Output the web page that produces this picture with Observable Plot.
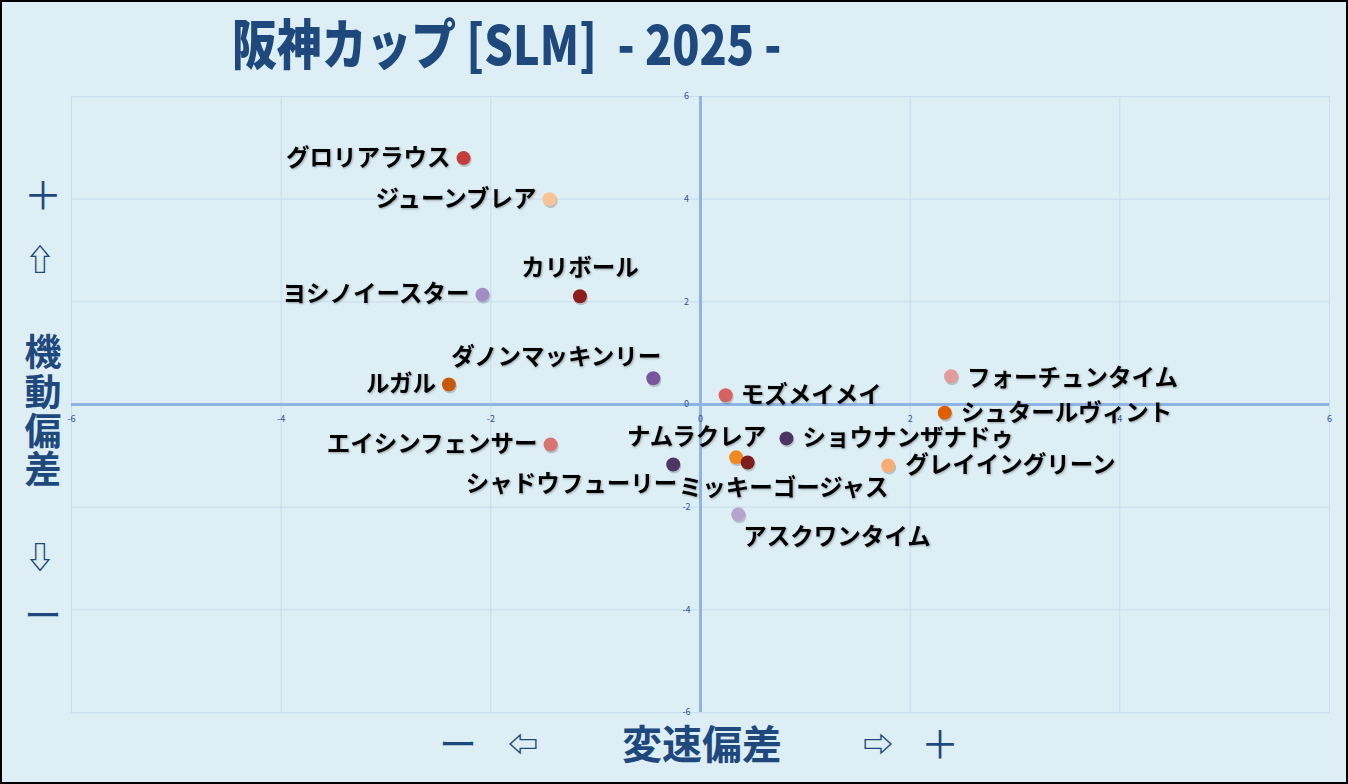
<!DOCTYPE html>
<html><head><meta charset="utf-8">
<script src="https://cdn.jsdelivr.net/npm/d3@7"></script>
<script src="https://cdn.jsdelivr.net/npm/@observablehq/plot@0.6"></script>
<style>
body{margin:0;background:#fff;}
#wrap{position:relative;width:1348px;height:784px;background:#ddeef5;overflow:hidden;font-family:"Noto Sans CJK JP","Noto Sans",sans-serif;}
#frame{position:absolute;left:0;top:0;width:1348px;height:784px;box-sizing:border-box;border:2px solid #000;pointer-events:none;}
#plot{position:absolute;left:0;top:0;}
.t{position:absolute;color:#1f497d;font-weight:700;line-height:1;white-space:pre;transform:translate(-50%,-50%);}
.n{font-weight:400;}
#title{position:absolute;left:232px;top:15px;color:#1f497d;font-weight:900;font-size:54px;line-height:1;white-space:pre;transform:scaleX(0.83);transform-origin:left top;}
</style></head><body>
<div id="wrap">
  <div id="plot"></div>
  <div id="title">阪神カップ [SLM]  - 2025 -</div>
  <div class="t n" style="left:43px;top:193px;font-size:38px">＋</div>
  <div class="t" style="left:40px;top:257px;font-size:30px">⇧</div>
  <div class="t" style="left:43px;top:350px;font-size:37px">機</div>
  <div class="t" style="left:43px;top:390px;font-size:37px">動</div>
  <div class="t" style="left:43px;top:429px;font-size:37px">偏</div>
  <div class="t" style="left:43px;top:467px;font-size:37px">差</div>
  <div class="t" style="left:40px;top:555px;font-size:30px">⇩</div>
  <div class="t n" style="left:43px;top:613px;font-size:38px">ー</div>
  <div class="t n" style="left:458px;top:742px;font-size:38px">ー</div>
  <div class="t" style="left:523px;top:742px;font-size:30px">⇦</div>
  <div class="t" style="left:702px;top:742px;font-size:40px">変速偏差</div>
  <div class="t" style="left:878px;top:742px;font-size:30px">⇨</div>
  <div class="t n" style="left:940px;top:742px;font-size:38px">＋</div>
  <div id="frame"></div>
</div>
<script>
// ---- data ----
const horses = ["グロリアラウス","ジューンブレア","カリボール","ヨシノイースター","ダノンマッキンリー","ルガル","エイシンフェンサー","シャドウフューリー","ナムラクレア","ミッキーゴージャス","アスクワンタイム","モズメイメイ","ショウナンザナドゥ","グレイイングリーン","フォーチュンタイム","シュタールヴィント"];
const speedDev    = [-2.26,-1.44,-1.15,-2.08,-0.45,-2.40,-1.43,-0.26,0.34,0.45,0.36,0.24,0.82,1.79,2.39,2.33];
const mobilityDev = [4.80,4.00,2.11,2.14,0.51,0.39,-0.78,-1.17,-1.03,-1.13,-2.14,0.18,-0.66,-1.19,0.55,-0.16];
const xTicks = [-6,-4,-2,0,2,4,6];
const yTicks = [-6,-4,-2,0,2,4,6];

// ---- styles ----
const dotColors = ["#c43c3c","#f8c396","#8e1d1d","#a48cc4","#7a559f","#c65a0a","#d87472","#4f3566","#f28a22","#7c1e1e","#b6a5cc","#d46262","#4d3563","#f7ae72","#e29c9c","#e06000"];
const labelPlace = {
  "グロリアラウス":[-13,0,"end"],
  "ジューンブレア":[-13,0,"end"],
  "カリボール":[0,-28,"middle"],
  "ヨシノイースター":[-13,0,"end"],
  "ダノンマッキンリー":[8,-21,"end"],
  "ルガル":[-13,0,"end"],
  "エイシンフェンサー":[-13,0,"end"],
  "シャドウフューリー":[4,20,"end"],
  "ナムラクレア":[30,-20,"end"],
  "ミッキーゴージャス":[-69,26,"start"],
  "アスクワンタイム":[5,23,"start"],
  "モズメイメイ":[15,0,"start"],
  "ショウナンザナドゥ":[16,0,"start"],
  "グレイイングリーン":[17,0,"start"],
  "フォーチュンタイム":[16,2,"start"],
  "シュタールヴィント":[16,1,"start"]
};

const rows = horses.map((h,i)=>({name:h,x:speedDev[i],y:mobilityDev[i],c:dotColors[i],p:labelPlace[h]}));

const labelMarks = [];
for (const anchor of ["start","middle","end"]) {
  const sub = rows.filter(r=>r.p[2]===anchor);
  const groups = d3.groups(sub, r=>r.p[0]+","+r.p[1]);
  for (const [,g] of groups) {
    const [dx,dy] = g[0].p;
    labelMarks.push(Plot.text(g,{x:"x",y:"y",text:"name",dx,dy,textAnchor:anchor,fill:"#000",fontSize:23.5,fontWeight:"bold"}));
  }
}

const chart = Plot.plot({
  width:1348, height:784,
  marginLeft:71, marginRight:19, marginTop:96, marginBottom:72,
  x:{domain:[-6,6], axis:null},
  y:{domain:[-6,6], axis:null},
  style:{background:"transparent", fontFamily:"'Noto Sans CJK JP','Noto Sans',sans-serif"},
  marks:[
    Plot.gridX(xTicks,{stroke:"#c8dcec",strokeOpacity:1,strokeWidth:1}),
    Plot.gridY(yTicks,{stroke:"#c8dcec",strokeOpacity:1,strokeWidth:1}),
    Plot.ruleX([0],{stroke:"#8db4e2",strokeWidth:3}),
    Plot.ruleY([0],{stroke:"#8db4e2",strokeWidth:3}),
    Plot.text(xTicks,{x:d=>d,y:()=>0,dy:15,text:d=>String(d),fontSize:9,fill:"#2f5597"}),
    Plot.text(yTicks,{x:()=>0,y:d=>d,dx:-14,text:d=>String(d),fontSize:9,fill:"#2f5597"}),
    Plot.dot(rows,{x:"x",y:"y",r:7,fill:"#000",fillOpacity:0.18,dx:1,dy:2}),
    Plot.dot(rows,{x:"x",y:"y",r:7,fill:"c",stroke:null}),
    ...labelMarks
  ]
});
chart.querySelectorAll('g[font-size="23.5"]').forEach(g=>{
  g.style.filter="drop-shadow(1px 1px 0.8px rgba(0,0,0,0.3))";
});
document.getElementById("plot").appendChild(chart);
</script>
</body></html>
